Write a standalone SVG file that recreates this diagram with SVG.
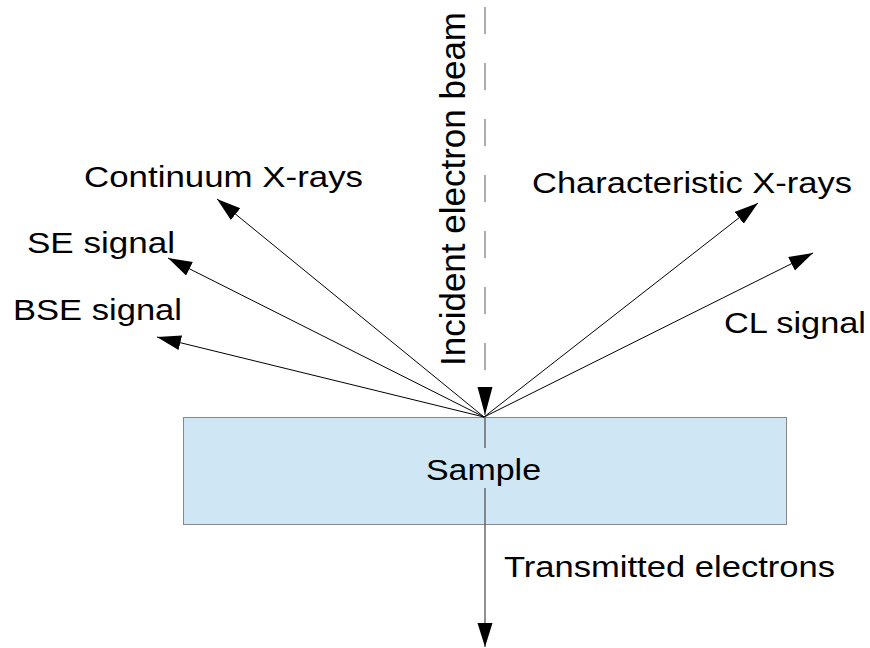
<svg xmlns="http://www.w3.org/2000/svg" width="870" height="648" viewBox="0 0 870 648">
<style>
.lbl{font-family:"Liberation Sans",Arial,sans-serif;font-size:30px;fill:#000}
.ray{stroke:#000;stroke-width:1;fill:none}
</style>
<defs>
<marker id="ah" markerUnits="userSpaceOnUse" markerWidth="26" markerHeight="16" refX="24" refY="7.5" orient="auto">
<path d="M0,0 L24,7.5 L0,15 z" fill="#000"/>
</marker>
<marker id="ahl" markerUnits="userSpaceOnUse" markerWidth="29" markerHeight="16" refX="28" refY="7.5" orient="auto">
<path d="M0,0 L28,7.5 L0,15 z" fill="#000"/>
</marker>
</defs>
<rect width="870" height="648" fill="#fff"/>
<g id="sample">
<rect x="183.5" y="417.5" width="603" height="107" fill="#cfe6f4" stroke="#888" stroke-width="1"/>
<text class="lbl" x="426" y="480" textLength="115" lengthAdjust="spacingAndGlyphs">Sample</text>
</g>
<g id="connectors">
<line class="ray" x1="484" y1="417" x2="217" y2="199" marker-end="url(#ah)"/>
<line class="ray" x1="484" y1="417" x2="168" y2="258" marker-end="url(#ah)"/>
<line class="ray" x1="484" y1="417" x2="157" y2="337" marker-end="url(#ah)"/>
<line class="ray" x1="484" y1="417" x2="758" y2="203" marker-end="url(#ah)"/>
<line class="ray" x1="484" y1="417" x2="813" y2="253" marker-end="url(#ah)"/>
<line x1="485" y1="7" x2="485" y2="415" stroke="#808080" stroke-width="1.3" stroke-dasharray="27 29" marker-end="url(#ahl)"/>
<line x1="485" y1="417" x2="485" y2="448" stroke="#555" stroke-width="1.3"/>
<line x1="485" y1="488" x2="485" y2="647" stroke="#555" stroke-width="1.3" marker-end="url(#ah)"/>
</g>
<g id="incident-label">
<text class="lbl" x="0" y="0" style="font-size:35px" transform="translate(465 366) rotate(-90)" textLength="354" lengthAdjust="spacingAndGlyphs">Incident electron beam</text>
</g>
<g id="continuum"><text class="lbl" x="84" y="187" textLength="279" lengthAdjust="spacingAndGlyphs">Continuum X-rays</text></g>
<g id="se"><text class="lbl" x="27" y="253" textLength="148" lengthAdjust="spacingAndGlyphs">SE signal</text></g>
<g id="bse"><text class="lbl" x="13" y="320" textLength="169" lengthAdjust="spacingAndGlyphs">BSE signal</text></g>
<g id="characteristic"><text class="lbl" x="532" y="193" textLength="320" lengthAdjust="spacingAndGlyphs">Characteristic X-rays</text></g>
<g id="cl"><text class="lbl" x="724" y="333" textLength="142" lengthAdjust="spacingAndGlyphs">CL signal</text></g>
<g id="transmitted"><text class="lbl" x="504" y="577" textLength="331" lengthAdjust="spacingAndGlyphs">Transmitted electrons</text></g>
</svg>
